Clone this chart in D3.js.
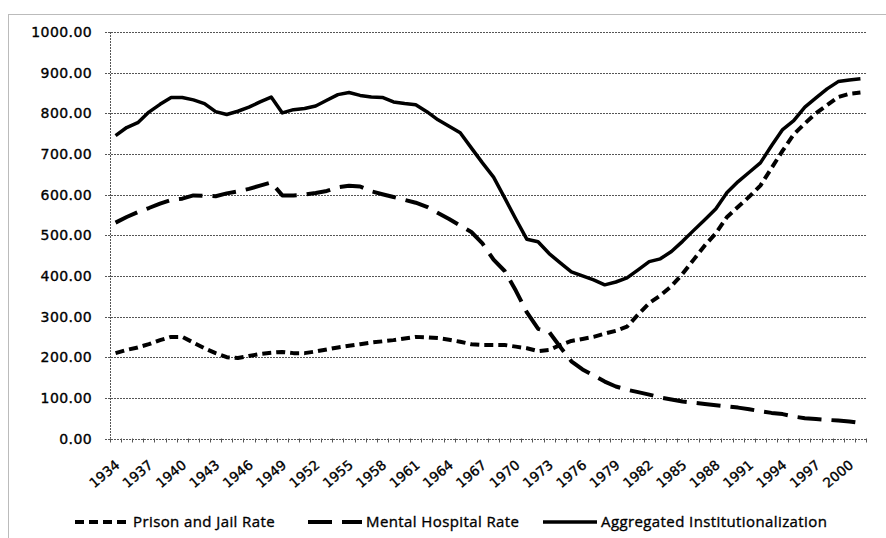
<!DOCTYPE html>
<html>
<head>
<meta charset="utf-8">
<script src="https://cdn.jsdelivr.net/npm/d3@7"></script>
<style>
  body { margin: 0; background: #fff; }
  #chart text { fill: #000; stroke: #000; stroke-width: 0.35px; }
</style>
</head>
<body>
<div id="chart"></div>
<script>

// categories: one per year, labels every third year
var years = d3.range(1934, 2002);
var labelYears = d3.range(1934, 2001, 3);
var yTicks = [0, 100, 200, 300, 400, 500, 600, 700, 800, 900, 1000];

// rates, 1934 .. 2001
var prisonRate = [
  210, 218, 224, 232, 242, 250, 250, 236, 222, 210,
  200, 198, 203, 208, 211, 213, 210, 210, 214, 219,
  224, 228, 232, 236, 239, 242, 246, 250, 249, 247,
  243, 238, 232, 230, 230, 230, 226, 222, 215, 218,
  230, 240, 245, 250, 258, 265, 275, 305, 333, 352,
  375, 405, 440, 475, 505, 545, 570, 595, 622, 665,
  708, 748, 775, 800, 820, 840, 848, 851
];

var mentalRate = [
  531, 545, 557, 567, 578, 587, 590, 598, 597, 596,
  603, 608, 614, 622, 630, 598, 598, 600, 604, 609,
  618, 622, 620, 608, 601, 594, 587, 580, 570, 555,
  540, 524, 508, 480, 440, 412, 364, 310, 270, 262,
  225, 190, 170, 155, 140, 128, 120, 114, 108, 101,
  96, 91, 88, 85, 82, 79, 76, 72, 67, 63,
  60, 54, 50, 48, 46, 44, 42, 38
];

var aggregated = [
  745, 765, 777, 803, 822, 839, 839, 833, 824, 804,
  797, 805, 815, 828, 840, 801, 809, 812, 818, 832,
  846, 851, 844, 840, 839, 828, 824, 821, 804, 784,
  768, 752, 715, 678, 643, 592, 540, 490, 484, 455,
  432, 410, 400, 390, 378, 385, 395, 415, 435, 442,
  460, 485, 512, 538, 565, 605, 632, 655, 678, 720,
  760, 782, 815, 838, 860, 878, 882, 885
];

var seriesNames = ["Prison and Jail Rate", "Mental Hospital Rate", "Aggregated Institutionalization"];

var series = [
  { name: seriesNames[0], values: prisonRate, dash: "9,5", width: 4 },
  { name: seriesNames[1], values: mentalRate, dash: "24,10", width: 4 },
  { name: seriesNames[2], values: aggregated, dash: null, width: 3.5 }
];

var W = 886, H = 538;
var margin = {top: 32, right: 20, bottom: 99.5, left: 110},
    width = W - margin.left - margin.right,
    height = H - margin.top - margin.bottom;

var svg = d3.select("#chart")
    .append("svg")
        .attr("width", W)
        .attr("height", H);

// dotted frame round the whole chart (right and bottom run off the picture)
svg.append("rect")
    .attr("x", 8.5)
    .attr("y", 14.5)
    .attr("width", 900)
    .attr("height", 540)
    .attr("fill", "none")
    .attr("stroke", "#777")
    .attr("stroke-width", 1)
    .attr("stroke-dasharray", "1,1");

var g = svg.append("g")
    .attr("transform", "translate(" + margin.left + "," + margin.top + ")");

// scales
var xScale = d3.scaleBand()
    .domain(years)
    .range([0, width])
    .padding(0);

var yScale = d3.scaleLinear()
    .domain([0, 1000])
    .range([height, 0]);

function xMid(year) { return xScale(year) + xScale.bandwidth() / 2; }

// horizontal gridlines
g.selectAll(".grid")
    .data(yTicks)
  .enter().append("line")
    .attr("class", "grid")
    .attr("x1", -5)
    .attr("x2", width)
    .attr("y1", function(d) { return Math.round(yScale(d)) + 0.5; })
    .attr("y2", function(d) { return Math.round(yScale(d)) + 0.5; })
    .attr("stroke", "#555")
    .attr("stroke-width", 1)
    .attr("stroke-dasharray", "2,1");

// y axis line
g.append("line")
    .attr("x1", 0.5).attr("x2", 0.5)
    .attr("y1", 0).attr("y2", height)
    .attr("stroke", "#555")
    .attr("stroke-dasharray", "2,1");

// y labels
g.selectAll(".ylab")
    .data(yTicks)
  .enter().append("text")
    .attr("class", "ylab")
    .attr("x", -18)
    .attr("y", function(d) { return yScale(d); })
    .attr("dy", "0.36em")
    .attr("text-anchor", "end")
    .style("font-family", "DejaVu Sans, sans-serif")
    .style("font-size", "14px")
    .style("letter-spacing", "0.4px")
    .text(d3.format(".2f"));

// x axis: labels every third year
var xAxis = d3.axisBottom(xScale)
    .tickValues(labelYears)
    .tickSize(0)
    .tickPadding(0);

var xg = g.append("g")
    .attr("transform", "translate(0," + height + ")")
    .call(xAxis);

xg.select(".domain").remove();
xg.selectAll("text")
    .style("font-family", "DejaVu Sans, sans-serif")
    .style("font-size", "13.5px")
    .attr("text-anchor", "end")
    .attr("dy", 0)
    .attr("transform", "translate(5,28) rotate(-40)");

// small tick marks on category boundaries
var boundaries = years.map(function(y) { return xScale(y); }).concat([width]);
g.selectAll(".xtick")
    .data(boundaries)
  .enter().append("line")
    .attr("class", "xtick")
    .attr("x1", function(d) { return Math.round(d) + 0.5; })
    .attr("x2", function(d) { return Math.round(d) + 0.5; })
    .attr("y1", height)
    .attr("y2", height + 4)
    .attr("stroke", "#555");

// the three lines
var line = d3.line()
    .x(function(d, i) { return xMid(years[i]); })
    .y(function(d) { return yScale(d); });

g.selectAll(".series")
    .data(series)
  .enter().append("path")
    .attr("class", "series")
    .attr("d", function(s) { return line(s.values); })
    .attr("fill", "none")
    .attr("stroke", "#000")
    .attr("stroke-width", function(s) { return s.width; })
    .attr("stroke-linejoin", "round")
    .attr("stroke-dasharray", function(s) { return s.dash; });

// legend
var legendX = [75, 308, 543];
var legend = svg.selectAll(".legend")
    .data(series)
  .enter().append("g")
    .attr("class", "legend")
    .attr("transform", function(s, i) { return "translate(" + legendX[i] + ",522)"; });

legend.append("line")
    .attr("x1", 0).attr("x2", 54)
    .attr("y1", 0).attr("y2", 0)
    .attr("stroke", "#000")
    .attr("stroke-width", function(s) { return s.width; })
    .attr("stroke-dasharray", function(s) { return s.dash; });

legend.append("text")
    .attr("x", 58)
    .attr("y", 0)
    .attr("dy", "0.35em")
    .style("font-family", "Open Sans, sans-serif")
    .style("font-size", "15px")
    .style("letter-spacing", "0.4px")
    .text(function(s) { return s.name; });

</script>
</body>
</html>
